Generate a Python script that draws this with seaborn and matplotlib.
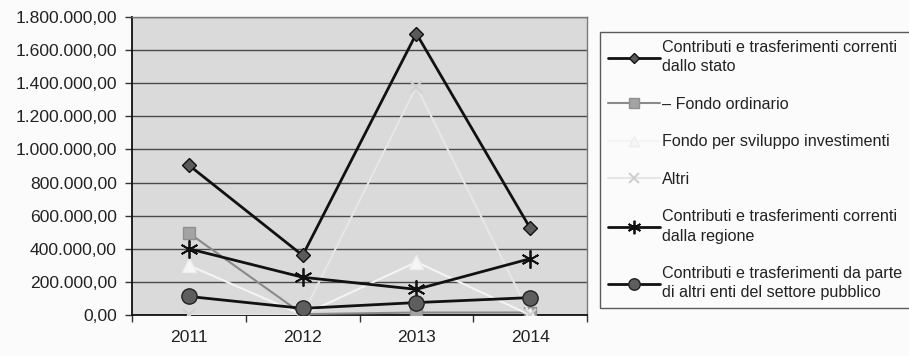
import matplotlib
matplotlib.use("Agg")
import matplotlib.pyplot as plt
import matplotlib.ticker as mticker
import numpy as np
import pandas as pd
import seaborn as sns

# Data
years = ["2011", "2012", "2013", "2014"]
stato = [905000, 360000, 1700000, 525000]
fondo_ordinario = [495000, 5000, 15000, 15000]
fondo_sviluppo = [300000, 0, 320000, 0]
altri = [0, 0, 1380000, 0]
regione = [400000, 228000, 155000, 340000]
altri_enti = [112000, 40000, 75000, 105000]

series_labels = [
    "Contributi e trasferimenti correnti\ndallo stato",
    "\u2013 Fondo ordinario",
    "Fondo per sviluppo investimenti",
    "Altri",
    "Contributi e trasferimenti correnti\ndalla regione",
    "Contributi e trasferimenti da parte\ndi altri enti del settore pubblico",
]
y_ticks = [0, 200000, 400000, 600000, 800000, 1000000, 1200000, 1400000, 1600000, 1800000]

sns.set_theme(style="white")
plt.rcParams["font.family"] = ["Liberation Sans", "DejaVu Sans"]

fig = plt.figure(figsize=(9.09, 3.56), dpi=100)
fig.patch.set_facecolor("#fbfbfb")
ax = fig.add_axes([132 / 909, 1 - 315 / 356, 455 / 909, 298 / 356])
ax.set_facecolor("#dadada")

pos = np.arange(len(years))
styles = [
    dict(data=stato, color="#111111", lw=2.0, marker="D", ms=7, mfc="#5a5a5a", mec="#111111", mew=1.0),
    dict(data=fondo_ordinario, color="#8a8a8a", lw=1.5, marker="s", ms=9, mfc="#a3a3a3", mec="#8f8f8f", mew=1.0),
    dict(data=fondo_sviluppo, color="#f4f4f4", lw=1.5, marker="^", ms=10, mfc="#f6f6f6", mec="#eeeeee", mew=1.0),
    dict(data=altri, color="#e6e6e6", lw=1.5, marker="x", ms=9, mfc="#d0d0d0", mec="#d0d0d0", mew=1.5),
    dict(data=regione, color="#111111", lw=2.0, marker=(6, 2, 0), ms=13, mfc="#111111", mec="#111111", mew=1.3),
    dict(data=altri_enti, color="#111111", lw=2.0, marker="o", ms=11, mfc="#5e5e5e", mec="#222222", mew=1.0),
]

handles = []
for st, lab in zip(styles, series_labels):
    df = pd.DataFrame({"pos": pos, "val": st["data"]})
    sns.lineplot(data=df, x="pos", y="val", ax=ax, color=st["color"], lw=st["lw"],
                 marker=st["marker"], markersize=st["ms"], markerfacecolor=st["mfc"],
                 markeredgecolor=st["mec"], markeredgewidth=st["mew"], label=lab,
                 legend=False, zorder=3)
    handles.append(ax.lines[-1])

ax.set_xlim(-0.5, len(years) - 0.5)
ax.set_ylim(0, 1800000)
ax.set_yticks(y_ticks)


def it_format(v, _):
    s = f"{v:,.2f}"
    return s.replace(",", "X").replace(".", ",").replace("X", ".")


ax.yaxis.set_major_formatter(mticker.FuncFormatter(it_format))
ax.set_xticks(pos)
ax.set_xticklabels(years)
ax.set_xticks(np.arange(-0.5, len(years), 1.0), minor=True)
ax.tick_params(axis="x", which="major", length=0, pad=11, labelsize=12.6, colors="#222222")
ax.tick_params(axis="x", which="minor", length=5, width=1, color="#333333", direction="out", bottom=True)
ax.tick_params(axis="y", which="major", length=5, width=1, color="#333333", direction="out",
               left=True, labelsize=12.6, pad=6, colors="#222222")
ax.set_xlabel("")
ax.set_ylabel("")

ax.grid(axis="y", color="#4a4a4a", lw=1.0, zorder=1)
ax.set_axisbelow(True)
for side in ["left", "bottom"]:
    ax.spines[side].set_color("#111111")
    ax.spines[side].set_linewidth(1.3)
for side in ["top", "right"]:
    ax.spines[side].set_color("#7a7a7a")
    ax.spines[side].set_linewidth(1.0)

leg = fig.legend(handles=handles, labels=series_labels, loc="upper left",
                 bbox_to_anchor=(600 / 909, 1 - 32 / 356), frameon=True, fancybox=False,
                 fontsize=11.6, handlelength=3.2, handletextpad=0.15, labelspacing=1.4,
                 borderpad=0.5, borderaxespad=0, markerscale=0.75)
leg.get_frame().set_edgecolor("#333333")
leg.get_frame().set_linewidth(1.0)
leg.get_frame().set_facecolor("#fbfbfb")
for t in leg.get_texts():
    t.set_color("#222222")
    t.set_linespacing(1.35)

fig.savefig("out.png", dpi=100, facecolor=fig.get_facecolor())
